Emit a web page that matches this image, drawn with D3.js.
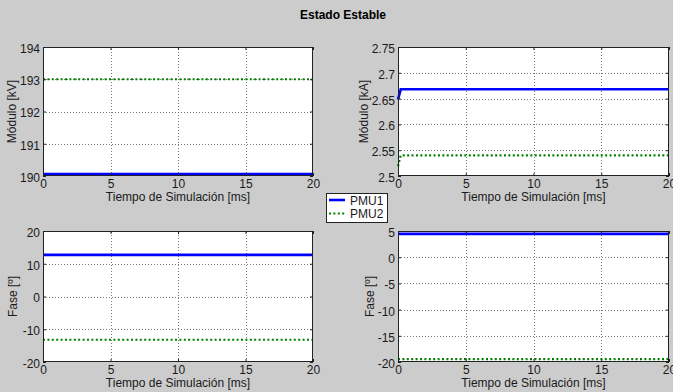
<!DOCTYPE html>
<html>
<head>
<meta charset="utf-8">
<script src="https://cdn.jsdelivr.net/npm/d3@7"></script>
<style>
    html, body { margin: 0; padding: 0; background: #cccccc; }
    svg { display: block; font-family: "Liberation Sans", Arial, sans-serif; }
    .grid line { stroke: #7a7a7a; stroke-dasharray: 1,2; shape-rendering: crispEdges; }
    .grid path { display: none; }
    .tick-in line { stroke: #222; }
    .tick-in path { display: none; }
    .tick-in text { font-size: 12px; fill: #1a1a1a; }
</style>
</head>
<body>
<div id="chart"></div>
<script>
// tiempo de simulación [ms]
const tiempo = [0, 0.2, 20];

// modulo tension [kV]
const vModPMU1 = [190.06, 190.06, 190.06];
const vModPMU2 = [193.0, 193.0, 193.0];
// modulo corriente [kA]
const iModPMU1 = [2.648, 2.668, 2.668];
const iModPMU2 = [2.519, 2.540, 2.540];
// fase tension [º]
const vFasePMU1 = [12.7, 12.7, 12.7];
const vFasePMU2 = [-13.2, -13.2, -13.2];
// fase corriente [º]
const iFasePMU1 = [4.45, 4.45, 4.45];
const iFasePMU2 = [-19.45, -19.45, -19.45];

const xTicks = [0, 5, 10, 15, 20];
const yTicksVMod = [190, 191, 192, 193, 194];
const yTicksIMod = [2.5, 2.55, 2.6, 2.65, 2.7, 2.75];
const yTicksVFase = [-20, -10, 0, 10, 20];
const yTicksIFase = [-20, -15, -10, -5, 0, 5];

const seriesNames = ['PMU1', 'PMU2'];

const width = 673;
const height = 392;

const svg = d3.select("#chart").append("svg")
    .attr("width", width)
    .attr("height", height);

svg.append("rect")
    .attr("width", width).attr("height", height)
    .attr("fill", "#cccccc");

// Title
svg.append("text")
    .attr("x", 343)
    .attr("y", 19)
    .attr("text-anchor", "middle")
    .style("font-size", "12px")
    .style("font-weight", "bold")
    .text("Estado Estable");

const panels = [
    { left: 43, top: 47, right: 313, bottom: 176, yTicks: yTicksVMod, ylabel: "Módulo [kV]", labOff: 31,
      fmt: d => d, s1: vModPMU1, s2: vModPMU2 },
    { left: 398, top: 47, right: 669, bottom: 176, yTicks: yTicksIMod, ylabel: "Módulo [kA]", labOff: 34,
      fmt: d => d, s1: iModPMU1, s2: iModPMU2 },
    { left: 43, top: 231, right: 313, bottom: 362, yTicks: yTicksVFase, ylabel: "Fase [º]", labOff: 30,
      fmt: d => d, s1: vFasePMU1, s2: vFasePMU2 },
    { left: 398, top: 231, right: 669, bottom: 362, yTicks: yTicksIFase, ylabel: "Fase [º]", labOff: 28,
      fmt: d => d, s1: iFasePMU1, s2: iFasePMU2 }
];

const style1 = { color: "#0000ff", width: 2.6, dash: null };
const style2 = { color: "#008000", width: 2.2, dash: "2,2.4" };

panels.forEach(p => {
    const x = d3.scaleLinear().domain([0, 20]).range([p.left, p.right]);
    const y = d3.scaleLinear()
        .domain([d3.min(p.yTicks), d3.max(p.yTicks)])
        .range([p.bottom, p.top]);
    const w = p.right - p.left;
    const h = p.bottom - p.top;

    const g = svg.append("g");

    g.append("rect")
        .attr("x", p.left).attr("y", p.top)
        .attr("width", w).attr("height", h)
        .attr("fill", "#ffffff");

    // dotted grid
    g.append("g")
        .attr("class", "grid")
        .attr("transform", `translate(0,${p.bottom})`)
        .call(d3.axisBottom(x).tickValues(xTicks.slice(1, -1)).tickSize(-h).tickFormat(""));
    g.append("g")
        .attr("class", "grid")
        .attr("transform", `translate(${p.left},0)`)
        .call(d3.axisLeft(y).tickValues(p.yTicks.slice(1, -1)).tickSize(-w).tickFormat(""));

    // lines
    const line = d3.line()
        .x((d, i) => x(tiempo[i]))
        .y(d => y(d));

    [[p.s1, style1], [p.s2, style2]].forEach(([vals, st]) => {
        g.append("path")
            .datum(vals)
            .attr("fill", "none")
            .attr("stroke", st.color)
            .attr("stroke-width", st.width)
            .attr("stroke-dasharray", st.dash)
            .attr("d", line);
    });

    // axes with inward ticks
    g.append("g")
        .attr("class", "tick-in")
        .attr("transform", `translate(0,${p.bottom})`)
        .call(d3.axisBottom(x).tickValues(xTicks).tickSize(-3).tickPadding(3));
    g.append("g")
        .attr("class", "tick-in")
        .attr("transform", `translate(0,${p.top})`)
        .call(d3.axisTop(x).tickValues(xTicks).tickSize(-3).tickFormat(""));
    const yl = g.append("g")
        .attr("class", "tick-in")
        .attr("transform", `translate(${p.left},0)`)
        .call(d3.axisLeft(y).tickValues(p.yTicks).tickSize(-3).tickPadding(3).tickFormat(p.fmt));
    yl.selectAll("text").attr("dy", "0.45em");
    g.append("g")
        .attr("class", "tick-in")
        .attr("transform", `translate(${p.right},0)`)
        .call(d3.axisRight(y).tickValues(p.yTicks).tickSize(-3).tickFormat(""));

    // box
    g.append("rect")
        .attr("x", p.left + 0.5).attr("y", p.top + 0.5)
        .attr("width", w - 1).attr("height", h - 1)
        .attr("fill", "none")
        .attr("stroke", "#222");

    // labels
    g.append("text")
        .attr("x", (p.left + p.right) / 2)
        .attr("y", p.bottom + 25)
        .attr("text-anchor", "middle")
        .style("font-size", "12px")
        .attr("fill", "#1a1a1a")
        .text("Tiempo de Simulación [ms]");

    g.append("text")
        .attr("transform", `translate(${p.left - p.labOff + 4},${(p.top + p.bottom) / 2}) rotate(-90)`)
        .attr("text-anchor", "middle")
        .style("font-size", "12px")
        .attr("fill", "#1a1a1a")
        .text(p.ylabel);
});

// Legend
const leg = svg.append("g").attr("transform", "translate(326,193)");
leg.append("rect")
    .attr("x", 0.5).attr("y", 0.5)
    .attr("width", 61).attr("height", 29)
    .attr("fill", "#ffffff")
    .attr("stroke", "#222");

[style1, style2].forEach((st, i) => {
    const yy = 7 + i * 13.5;
    leg.append("line")
        .attr("x1", 3).attr("x2", 19)
        .attr("y1", yy).attr("y2", yy)
        .attr("stroke", st.color)
        .attr("stroke-width", st.width)
        .attr("stroke-dasharray", st.dash);
    leg.append("text")
        .attr("x", 24)
        .attr("y", yy + 4.5)
        .style("font-size", "12px")
        .attr("fill", "#1a1a1a")
        .text(seriesNames[i]);
});
</script>
</body>
</html>
